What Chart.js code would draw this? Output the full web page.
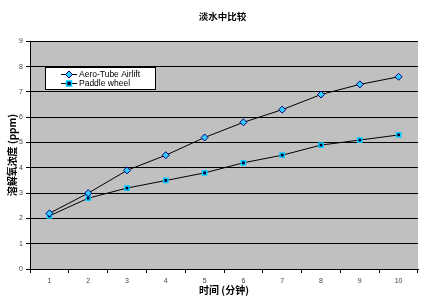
<!DOCTYPE html>
<html>
<head>
<meta charset="utf-8">
<script src="https://cdn.jsdelivr.net/npm/chart.js@4"></script>
<style>
    html, body { margin: 0; padding: 0; background: #ffffff; }
    canvas { display: block; }
</style>
</head>
<body>
<canvas id="chart" width="445" height="305"></canvas>
<script>
// Values
const minutes = ["1", "2", "3", "4", "5", "6", "7", "8", "9", "10"];
const aeroTube = [2.2, 3.0, 3.9, 4.5, 5.2, 5.8, 6.3, 6.9, 7.3, 7.6];
const paddleWheel = [2.1, 2.8, 3.2, 3.5, 3.8, 4.2, 4.5, 4.9, 5.1, 5.3];
const seriesNames = ["Aero-Tube Airlift", "Paddle wheel"];
const yTicks = [0, 1, 2, 3, 4, 5, 6, 7, 8, 9];

const chartTitle = "淡水中比较";
const xTitle = "时间 (分钟)";
const yTitle = "溶解氧浓度 (ppm)";

const tickFont = { family: "Arial, 'Liberation Sans', sans-serif", size: 7 };
const titleFont = { family: "'Noto Sans CJK SC', sans-serif", size: 10, weight: "bold" };

// grey plot area, like the spreadsheet default
const plotBackground = {
    id: "plotBackground",
    beforeDraw(chart) {
        const { ctx, chartArea } = chart;
        ctx.save();
        ctx.fillStyle = "#c0c0c0";
        ctx.fillRect(chartArea.left, chartArea.top,
            chartArea.right - chartArea.left, chartArea.bottom - chartArea.top);
        ctx.restore();
    }
};

// boxed legend inside the plot
const boxedLegend = {
    id: "boxedLegend",
    afterDraw(chart) {
        const { ctx } = chart;
        const x = 45, y = 67, w = 110, h = 22;
        ctx.save();
        ctx.fillStyle = "#ffffff";
        ctx.fillRect(x, y, w, h);
        ctx.strokeStyle = "#000000";
        ctx.lineWidth = 1;
        ctx.strokeRect(x + 0.5, y + 0.5, w, h);

        chart.data.datasets.forEach((ds, i) => {
            const rowY = y + 7.5 + i * 9;
            ctx.strokeStyle = ds.borderColor;
            ctx.lineWidth = 1;
            ctx.beginPath();
            ctx.moveTo(61, rowY);
            ctx.lineTo(77, rowY);
            ctx.stroke();

            ctx.fillStyle = ds.pointBackgroundColor;
            ctx.strokeStyle = ds.pointBorderColor;
            ctx.lineWidth = ds.pointBorderWidth;
            ctx.beginPath();
            if (ds.pointStyle === "rectRot") {
                ctx.moveTo(69, rowY - 3.5);
                ctx.lineTo(72.5, rowY);
                ctx.lineTo(69, rowY + 3.5);
                ctx.lineTo(65.5, rowY);
                ctx.closePath();
            } else {
                ctx.rect(66.5, rowY - 2.5, 5, 5);
            }
            ctx.fill();
            ctx.stroke();

            ctx.fillStyle = "#000000";
            ctx.font = "8.5px Arial, 'Liberation Sans', sans-serif";
            ctx.textAlign = "left";
            ctx.textBaseline = "middle";
            ctx.fillText(ds.label, 79, rowY + 0.5);
        });
        ctx.restore();
    }
};

new Chart(document.getElementById("chart").getContext("2d"), {
    type: "line",
    data: {
        labels: minutes,
        datasets: [{
            label: seriesNames[0],
            data: aeroTube,
            borderColor: "#000000",
            borderWidth: 1,
            pointStyle: "rectRot",
            pointRadius: 3.5,
            pointBackgroundColor: "#33ccff",
            pointBorderColor: "#000080",
            pointBorderWidth: 1
        }, {
            label: seriesNames[1],
            data: paddleWheel,
            borderColor: "#000000",
            borderWidth: 1,
            pointStyle: "rect",
            pointRadius: 3,
            pointBackgroundColor: "#000033",
            pointBorderColor: "#00ccff",
            pointBorderWidth: 1.5
        }]
    },
    options: {
        responsive: false,
        animation: false,
        events: [],
        layout: { padding: 0 },
        plugins: {
            legend: { display: false },
            tooltip: { enabled: false },
            title: {
                display: true,
                text: chartTitle,
                color: "#000000",
                font: { ...titleFont, size: 9.5 },
                padding: { top: 11, bottom: 19 }
            }
        },
        scales: {
            x: {
                offset: true,
                grid: {
                    offset: true,
                    drawOnChartArea: false,
                    drawTicks: true,
                    tickLength: 4,
                    color: "#000000"
                },
                border: { color: "#000000", width: 1 },
                ticks: {
                    color: "#444444",
                    font: tickFont,
                    padding: 4,
                    maxRotation: 0
                },
                title: {
                    display: true,
                    text: xTitle,
                    color: "#000000",
                    font: titleFont,
                    padding: { top: 0, bottom: 9 }
                },
                afterFit(scale) { scale.height = 36; }
            },
            y: {
                min: 0,
                max: 9,
                afterBuildTicks(scale) {
                    scale.ticks = yTicks.map(value => ({ value }));
                },
                grid: {
                    color: "#000000",
                    lineWidth: 1,
                    drawTicks: true,
                    tickLength: 4
                },
                border: { color: "#000000", width: 1 },
                ticks: {
                    color: "#444444",
                    font: tickFont,
                    padding: 3
                },
                title: {
                    display: true,
                    text: yTitle,
                    color: "#000000",
                    font: titleFont,
                    padding: { top: 6, bottom: 0 }
                },
                afterFit(scale) { scale.width = 30; }
            },
            // empty right axis only reserves the white margin on the right
            yRight: {
                position: "right",
                display: true,
                grid: { display: false, drawTicks: false },
                border: { display: false },
                ticks: { display: false },
                afterFit(scale) { scale.width = 27; }
            }
        }
    },
    plugins: [plotBackground, boxedLegend]
});
</script>
</body>
</html>
